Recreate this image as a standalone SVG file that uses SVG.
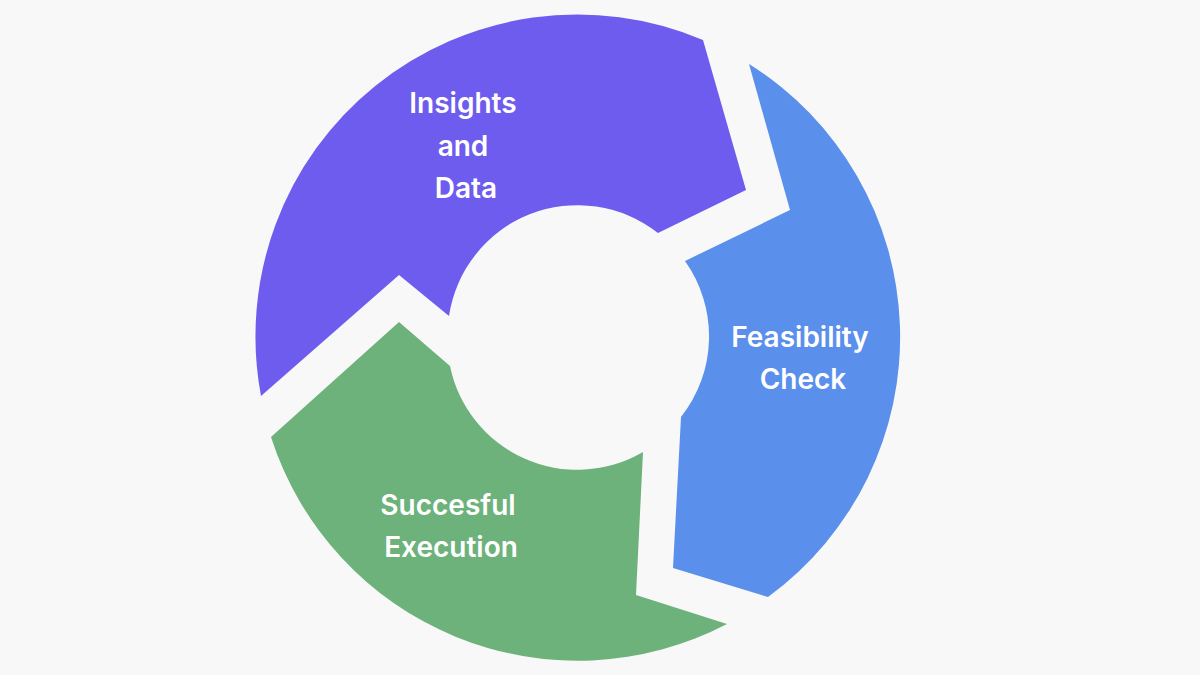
<svg xmlns="http://www.w3.org/2000/svg" width="1200" height="675" viewBox="0 0 1200 675">
<style>
text{font-family:Inter,"Open Sans","Liberation Sans",sans-serif;font-size:28px;font-weight:600;fill:#fff;text-anchor:middle}
</style>
<rect width="1200" height="675" fill="#F8F8F8"/>
<g id="insights">
<path fill="#6E5CEF" d="M261,396 L399,275 L449,316 A130,130 0 0 1 658,233 L746,190 L703,40 A322,322 0 0 0 261,396 Z"/>
<text x="463" y="113">Insights</text><text x="463" y="156">and</text><text x="466" y="198">Data</text>
</g>
<g id="feasibility">
<path fill="#5A8FEC" d="M749,64 L790,210 L685,261 A130,130 0 0 1 681,417 L673,568 L768,597 A322,322 0 0 0 749,64 Z"/>
<text x="800" y="347">Feasibility</text><text x="803" y="389">Check</text>
</g>
<g id="execution">
<path fill="#6DB27B" d="M271,437 L399,322 L450,366 A130,130 0 0 0 643,452 L636,595 L727,624 A322,322 0 0 1 271,437 Z"/>
<text x="448" y="515">Succesful</text><text x="451" y="557">Execution</text>
</g>
<g id="connectors"/>
</svg>
